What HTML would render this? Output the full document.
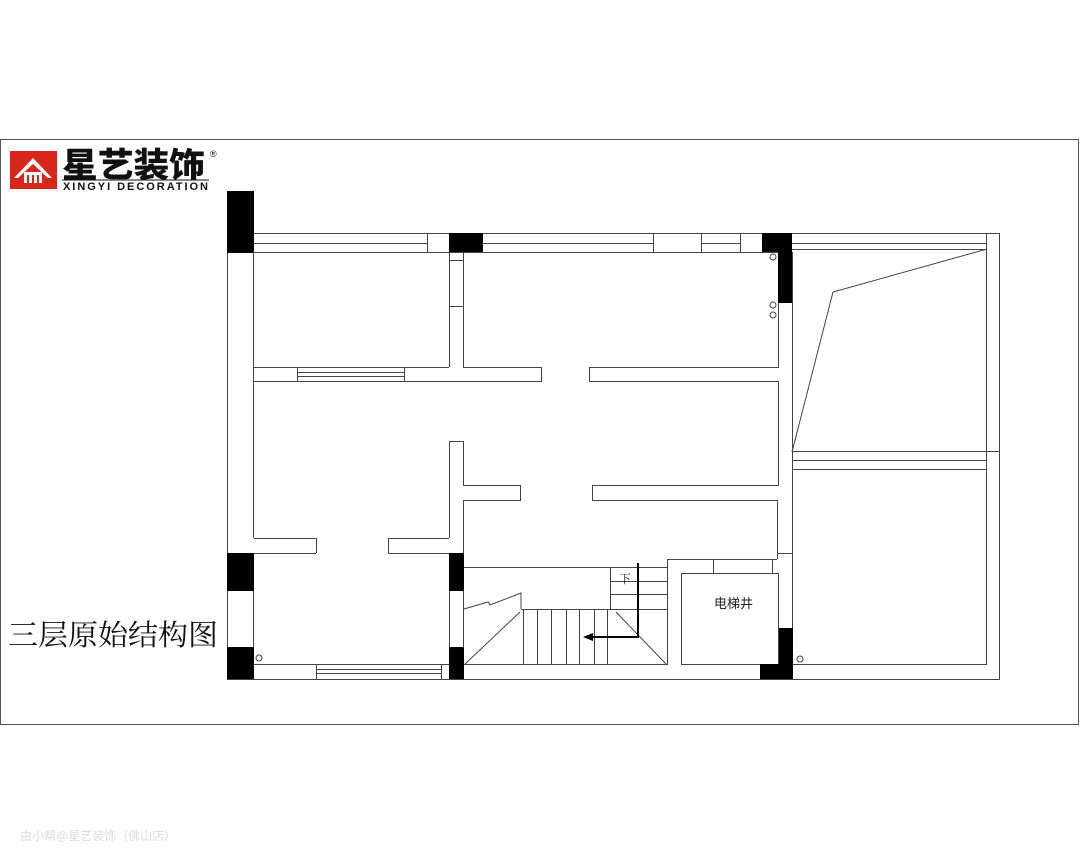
<!DOCTYPE html>
<html><head><meta charset="utf-8"><style>
html,body{margin:0;padding:0;background:#fff;width:1080px;height:864px;overflow:hidden}
svg{display:block}
</style></head><body>
<svg width="1080" height="864" viewBox="0 0 1080 864" xmlns="http://www.w3.org/2000/svg">
<rect x="0.5" y="139.5" width="1078" height="585" fill="none" stroke="#555" stroke-width="1"/>
<!-- logo -->
<rect x="10" y="151" width="47" height="38" fill="#d8261c"/>
<path d="M14 178 L33 158 L52 178 L48 178 L33 164 L18 178Z" fill="#fff"/>
<rect x="24" y="172" width="18" height="11" fill="#fff"/>
<rect x="27" y="175" width="2" height="8" fill="#d8261c"/><rect x="32" y="175" width="2" height="8" fill="#d8261c"/><rect x="37" y="175" width="2" height="8" fill="#d8261c"/>
<text x="62" y="177" font-family="'Noto Sans CJK SC','WenQuanYi Zen Hei',sans-serif" font-weight="900" font-size="34" fill="#111" textLength="143" lengthAdjust="spacingAndGlyphs">星艺装饰</text>
<text x="210" y="157" font-family="'Liberation Sans',sans-serif" font-size="9" fill="#111">®</text>
<line x1="62" y1="180" x2="209" y2="180" stroke="#111" stroke-width="1"/>
<text x="63" y="190" font-family="'Liberation Sans',sans-serif" font-weight="bold" font-size="11" fill="#111" textLength="145">XINGYI DECORATION</text>
<text x="8" y="645" font-family="'Liberation Serif','Noto Serif CJK SC',serif" font-size="29" fill="#111" textLength="210" lengthAdjust="spacingAndGlyphs">三层原始结构图</text>
<text x="20" y="840" font-family="'Liberation Sans','Noto Sans CJK SC',sans-serif" font-size="12" fill="#ddd">由小帮@星艺装饰（佛山店）</text>
<g fill="none" stroke="#444" stroke-width="1">
<line x1="227" y1="233.5" x2="1000" y2="233.5"/>
<line x1="253" y1="243.5" x2="427" y2="243.5"/>
<line x1="483" y1="243.5" x2="653" y2="243.5"/>
<line x1="701" y1="243.5" x2="740" y2="243.5"/>
<line x1="792" y1="243.5" x2="987" y2="243.5"/>
<line x1="792" y1="249.5" x2="987" y2="249.5"/>
<line x1="253" y1="252.5" x2="779" y2="252.5"/>
<line x1="427.5" y1="233" x2="427.5" y2="253"/>
<line x1="653.5" y1="233" x2="653.5" y2="253"/>
<line x1="701.5" y1="233" x2="701.5" y2="253"/>
<line x1="740.5" y1="233" x2="740.5" y2="253"/>
<line x1="227.5" y1="191" x2="227.5" y2="679"/>
<line x1="253.5" y1="253" x2="253.5" y2="538"/>
<line x1="253.5" y1="553" x2="253.5" y2="665"/>
<line x1="227" y1="679.5" x2="1000" y2="679.5"/>
<line x1="253" y1="664.5" x2="449" y2="664.5"/>
<line x1="316" y1="669.5" x2="441" y2="669.5"/>
<line x1="316" y1="673.5" x2="441" y2="673.5"/>
<line x1="316.5" y1="665" x2="316.5" y2="679"/>
<line x1="441.5" y1="665" x2="441.5" y2="679"/>
<line x1="999.5" y1="233" x2="999.5" y2="679"/>
<line x1="986.5" y1="233" x2="986.5" y2="664"/>
<line x1="792" y1="664.5" x2="987" y2="664.5"/>
<line x1="792.5" y1="252" x2="792.5" y2="679"/>
<polyline points="987,249 833,292 792,452"/>
<line x1="792" y1="451.5" x2="1000" y2="451.5"/>
<line x1="792" y1="460.5" x2="987" y2="460.5"/>
<line x1="792" y1="469.5" x2="987" y2="469.5"/>
<line x1="253" y1="367.5" x2="449" y2="367.5"/>
<line x1="253" y1="381.5" x2="541" y2="381.5"/>
<line x1="297" y1="372.5" x2="404" y2="372.5"/>
<line x1="297" y1="376.5" x2="404" y2="376.5"/>
<line x1="297.5" y1="367" x2="297.5" y2="381"/>
<line x1="404.5" y1="367" x2="404.5" y2="381"/>
<line x1="449.5" y1="253" x2="449.5" y2="367"/>
<line x1="463.5" y1="253" x2="463.5" y2="367"/>
<line x1="449" y1="260.5" x2="463" y2="260.5"/>
<line x1="449" y1="306.5" x2="463" y2="306.5"/>
<line x1="463" y1="367.5" x2="541" y2="367.5"/>
<line x1="541.5" y1="367" x2="541.5" y2="382"/>
<line x1="589" y1="367.5" x2="779" y2="367.5"/>
<line x1="589" y1="381.5" x2="779" y2="381.5"/>
<line x1="589.5" y1="367" x2="589.5" y2="382"/>
<line x1="778.5" y1="303" x2="778.5" y2="367"/>
<line x1="778.5" y1="381" x2="778.5" y2="485"/>
<line x1="254" y1="538.5" x2="316" y2="538.5"/>
<line x1="254" y1="553.5" x2="316" y2="553.5"/>
<line x1="316.5" y1="538" x2="316.5" y2="553"/>
<line x1="388" y1="538.5" x2="449" y2="538.5"/>
<line x1="388" y1="553.5" x2="449" y2="553.5"/>
<line x1="388.5" y1="538" x2="388.5" y2="553"/>
<polyline points="449.5,538 449.5,441.5 463.5,441.5 463.5,485.5 520.5,485.5 520.5,500.5 463.5,500.5 463.5,553"/>
<polyline points="449.5,591 449.5,647"/>
<polyline points="463.5,591 463.5,647"/>
<polyline points="253.5,591 253.5,647"/>
<polyline points="592,485.5 779,485.5"/>
<polyline points="592.5,485 592.5,500.5 777.5,500.5 777.5,559"/>
<line x1="777" y1="553.5" x2="792" y2="553.5"/>
<line x1="667" y1="559.5" x2="777" y2="559.5"/>
<line x1="463" y1="567.5" x2="667" y2="567.5"/>
<line x1="667.5" y1="559" x2="667.5" y2="665"/>
<line x1="713.5" y1="559" x2="713.5" y2="573"/>
<line x1="772.5" y1="559" x2="772.5" y2="573"/>
<rect x="681.5" y="573.5" width="97" height="91"/>
<line x1="610.5" y1="567" x2="610.5" y2="609"/>
<line x1="610" y1="581.5" x2="667" y2="581.5"/>
<line x1="610" y1="594.5" x2="667" y2="594.5"/>
<line x1="521" y1="609.5" x2="667" y2="609.5"/>
<line x1="463" y1="664.5" x2="667" y2="664.5"/>
<line x1="523.5" y1="609" x2="523.5" y2="665"/>
<line x1="537.5" y1="609" x2="537.5" y2="665"/>
<line x1="551.5" y1="609" x2="551.5" y2="665"/>
<line x1="566.5" y1="609" x2="566.5" y2="665"/>
<line x1="579.5" y1="609" x2="579.5" y2="665"/>
<line x1="594.5" y1="609" x2="594.5" y2="665"/>
<line x1="607.5" y1="609" x2="607.5" y2="665"/>
<line x1="464" y1="665" x2="520" y2="612"/>
<line x1="616" y1="612" x2="667" y2="665"/>
<polyline points="464,609 488,602 490,605 521,593 521,609"/>
<circle cx="773" cy="257" r="3"/>
<circle cx="773" cy="305" r="3"/>
<circle cx="773" cy="315" r="3"/>
<circle cx="259" cy="658" r="3"/>
<circle cx="800" cy="659" r="3"/>
</g>
<g fill="#000">
<rect x="227" y="191" width="27" height="62"/>
<rect x="449" y="233" width="34" height="19"/>
<rect x="762" y="233" width="30" height="19"/>
<rect x="778" y="233" width="14" height="70"/>
<rect x="227" y="553" width="27" height="38"/>
<rect x="227" y="647" width="27" height="32"/>
<rect x="449" y="553" width="15" height="38"/>
<rect x="449" y="647" width="15" height="32"/>
<rect x="779" y="628" width="14" height="51"/>
<rect x="760" y="664" width="33" height="15"/>
</g>
<polyline points="638,563 638,637 590,637" fill="none" stroke="#000" stroke-width="2"/>
<polygon points="583,637 593,633 593,641" fill="#000"/>
<text x="619" y="583" font-family="'Liberation Serif','Noto Serif CJK SC',serif" font-size="12" fill="#222">下</text>
<text x="714" y="608" font-family="'Liberation Sans','Noto Sans CJK SC',sans-serif" font-size="13" fill="#222">电梯井</text>
</svg>
</body></html>
